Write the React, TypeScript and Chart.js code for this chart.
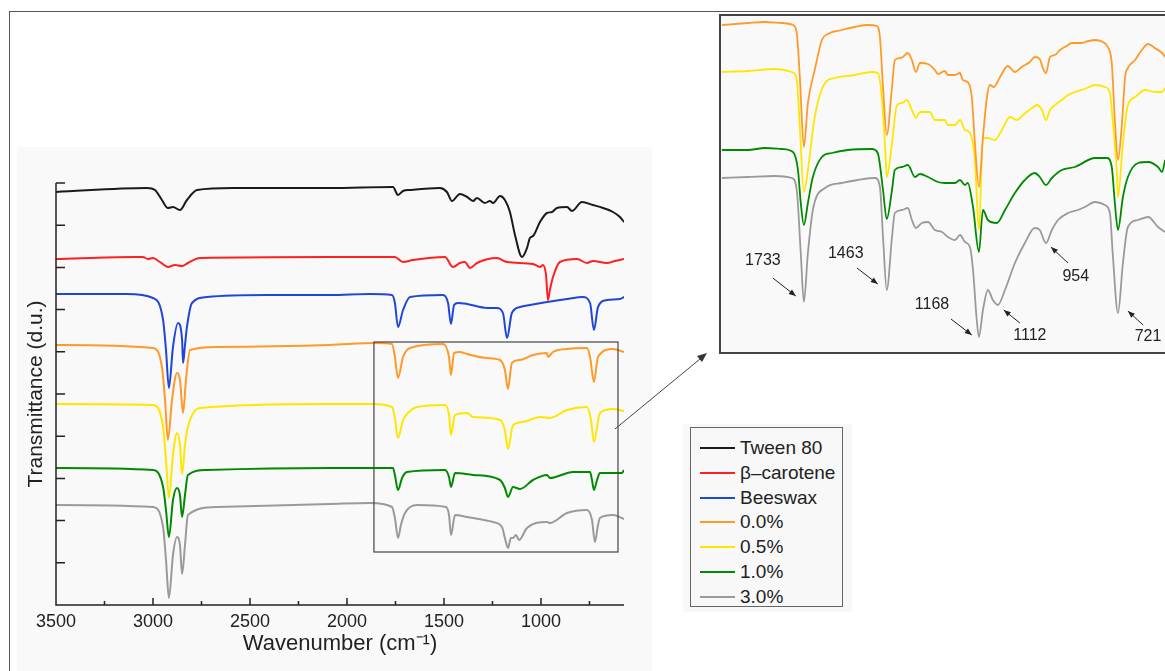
import React, { useEffect, useRef } from 'react';
import { Chart, registerables } from 'chart.js';

Chart.register(...registerables);

// ---------------- Data (wavenumber cm-1, transmittance in d.u., offset-stacked) ----------------
const SERIES_NAMES = ['Tween 80', 'β–carotene', 'Beeswax', '0.0%', '0.5%', '1.0%', '3.0%'];
const SERIES_COLORS = ['#1a1a1a', '#ff1f1f', '#1e46d8', '#ff9a28', '#ffe600', '#008a00', '#9a9a9a'];

const X_LABELS = [3500, 3000, 2500, 2000, 1500, 1000];
const X_MINOR = [3250, 2750, 2250, 1750, 1250, 750];
const X_MIN = 572;
const X_MAX = 3500;
const Y_MAX = 422;
const Y_TICK_STEP = 42.2;

const TWEEN_80: [number, number][] = [[3500,413],[3031,417],[2990,415],[2954,405],[2923,397],[2897,398],[2861,395],[2825,405],[2773,415],[2588,417],[2088,417],[1763,418],[1737,410],[1711,414],[1675,415],[1521,417],[1485,413],[1459,404],[1418,411],[1381,408],[1350,404],[1330,407],[1289,402],[1263,404],[1247,402],[1211,409],[1186,405],[1160,393],[1134,370],[1098,348],[1072,357],[1057,367],[1041,369],[1005,383],[969,392],[943,393],[918,397],[866,398],[840,394],[789,403],[732,400],[680,397],[629,393],[593,388],[572,383]];

const BETA_CAROTENE: [number, number][] = [[3500,346],[3103,348],[3052,348],[3026,346],[3000,347],[2964,343],[2923,338],[2887,340],[2850,339],[2820,342],[2758,347],[2088,348],[1753,348],[1711,343],[1660,345],[1495,348],[1454,338],[1418,342],[1392,343],[1366,337],[1330,342],[1227,347],[1175,343],[1041,341],[1005,338],[990,340],[974,330],[964,305],[954,315],[938,328],[902,343],[814,346],[763,342],[732,344],[660,342],[619,344],[572,346]];

const BEESWAX: [number, number][] = [[3500,311],[3134,311],[3000,307],[2948,285],[2933,255],[2918,217],[2897,258],[2871,282],[2850,265],[2845,242],[2835,260],[2825,278],[2799,302],[2722,308],[2412,310],[2088,310],[1881,311],[1768,310],[1753,302],[1737,278],[1711,295],[1675,308],[1505,310],[1479,302],[1464,281],[1448,300],[1428,302],[1381,301],[1278,297],[1227,297],[1196,292],[1175,267],[1150,292],[1108,298],[1057,300],[969,303],[866,306],[784,308],[747,302],[727,275],[706,298],[660,305],[593,306],[572,308]];

const P_0_0: [number, number][] = [[3500,260],[3000,257],[2954,238],[2938,205],[2923,165],[2902,205],[2876,232],[2861,225],[2845,192],[2830,225],[2809,255],[2670,258],[2088,260],[1856,262],[1768,261],[1753,248],[1737,227],[1711,248],[1675,257],[1505,261],[1474,248],[1464,230],[1448,252],[1418,253],[1381,251],[1278,247],[1211,245],[1186,235],[1170,216],[1150,242],[1108,245],[1041,250],[969,252],[964,248],[938,253],[866,256],[763,257],[747,248],[727,223],[706,248],[629,256],[572,253]];

const P_0_5: [number, number][] = [[3500,201],[3000,200],[2948,178],[2933,145],[2918,107],[2897,150],[2876,172],[2861,160],[2850,131],[2835,160],[2820,178],[2758,197],[2088,201],[1866,201],[1768,198],[1753,187],[1737,167],[1711,185],[1686,192],[1639,198],[1495,200],[1474,190],[1464,170],[1443,190],[1381,192],[1350,188],[1211,185],[1186,175],[1170,156],[1144,180],[1093,183],[1005,188],[954,187],[866,195],[763,198],[742,185],[727,163],[696,192],[629,196],[572,194]];

const P_1_0: [number, number][] = [[3500,137],[3000,135],[2948,118],[2933,95],[2918,68],[2897,105],[2876,117],[2861,110],[2850,88],[2835,110],[2820,130],[2722,135],[2088,137],[1763,137],[1753,130],[1737,115],[1716,127],[1691,133],[1495,135],[1474,128],[1464,118],[1443,132],[1350,130],[1211,125],[1186,117],[1170,108],[1144,118],[1108,116],[1041,125],[969,130],[954,127],[835,133],[747,133],[737,125],[727,115],[711,125],[696,132],[583,132],[572,135]];

const P_3_0: [number, number][] = [[3500,100],[3000,98],[2948,78],[2933,45],[2918,7],[2897,50],[2876,68],[2861,60],[2850,31],[2835,60],[2820,90],[2670,98],[2088,101],[1881,102],[1768,98],[1753,87],[1737,67],[1722,80],[1701,92],[1639,100],[1490,98],[1474,90],[1464,70],[1443,90],[1381,88],[1247,83],[1201,78],[1186,67],[1170,57],[1155,67],[1144,67],[1129,70],[1113,65],[1072,77],[969,83],[954,82],[866,92],[763,95],[737,85],[722,63],[706,80],[696,87],[629,90],[572,86]];

// Inset (zoom 2000 – 563 cm-1), its own offsets
const INSET_X_MIN = 563;
const INSET_X_MAX = 2000;
const INSET_Y_MAX = 336;

const INSET_0_0: [number, number][] = [[1997,327],[1913,329],[1859,330],[1804,329],[1768,327],[1756,319],[1746,275],[1733,205],[1720,249],[1698,282],[1675,312],[1656,318],[1611,322],[1569,325],[1527,327],[1498,326],[1488,315],[1478,265],[1466,217],[1449,265],[1440,292],[1424,294],[1414,295],[1398,299],[1385,292],[1372,280],[1359,289],[1333,288],[1311,282],[1301,278],[1279,281],[1269,277],[1246,277],[1230,279],[1221,272],[1205,270],[1192,255],[1182,209],[1169,165],[1156,215],[1143,255],[1134,267],[1121,265],[1101,275],[1076,286],[1053,280],[1031,285],[1005,290],[989,295],[973,293],[963,284],[953,279],[940,295],[924,297],[908,302],[892,305],[869,309],[837,309],[828,310],[795,312],[770,310],[754,305],[741,289],[731,232],[721,192],[708,229],[698,275],[689,284],[666,292],[644,302],[624,308],[602,304],[579,299],[569,295]];

const INSET_0_5: [number, number][] = [[1997,280],[1913,281],[1826,283],[1772,280],[1756,272],[1746,225],[1733,160],[1720,182],[1698,235],[1665,269],[1633,274],[1569,277],[1514,280],[1495,279],[1482,255],[1469,192],[1466,175],[1449,209],[1433,247],[1417,249],[1401,252],[1385,242],[1372,234],[1359,240],[1327,240],[1311,232],[1279,232],[1269,227],[1246,227],[1230,232],[1214,222],[1198,219],[1182,192],[1169,122],[1156,214],[1140,214],[1118,212],[1095,222],[1069,235],[1047,232],[1027,237],[998,244],[982,247],[966,242],[953,232],[940,242],[924,247],[902,252],[882,257],[860,260],[828,263],[795,267],[763,265],[747,259],[738,232],[725,182],[721,155],[705,209],[689,247],[666,255],[634,262],[602,260],[579,260],[569,264]];

const INSET_1_0: [number, number][] = [[1997,202],[1913,202],[1859,204],[1804,203],[1768,200],[1752,182],[1743,149],[1733,127],[1720,149],[1704,175],[1675,195],[1643,199],[1591,202],[1514,203],[1495,199],[1478,162],[1466,133],[1449,162],[1440,182],[1417,185],[1398,187],[1375,175],[1359,178],[1333,175],[1301,170],[1279,169],[1246,169],[1230,172],[1214,167],[1205,169],[1188,145],[1169,100],[1156,142],[1140,132],[1111,129],[1085,142],[1053,159],[1021,172],[989,179],[973,175],[953,167],[934,174],[902,182],[860,185],[795,194],[757,194],[741,185],[731,149],[721,122],[705,155],[689,175],[656,189],[624,190],[592,185],[579,180],[569,192]];

const INSET_3_0: [number, number][] = [[1997,174],[1913,175],[1826,176],[1772,174],[1756,162],[1743,99],[1733,50],[1720,99],[1704,142],[1665,164],[1611,169],[1559,172],[1504,174],[1488,165],[1478,115],[1466,62],[1449,115],[1440,139],[1417,142],[1398,144],[1385,132],[1372,124],[1353,129],[1333,130],[1311,122],[1288,120],[1269,115],[1246,112],[1230,117],[1214,110],[1198,105],[1188,82],[1176,32],[1169,15],[1156,42],[1140,62],[1124,52],[1108,47],[1085,62],[1053,89],[1021,109],[989,124],[973,122],[953,109],[934,122],[914,132],[882,139],[850,142],[828,145],[795,150],[763,147],[747,139],[738,99],[721,39],[705,89],[689,125],[656,132],[624,135],[592,125],[569,120]];

const PEAK_LABELS = ['1733', '1463', '1168', '1112', '954', '721'];

// ---------------- Styling / layout ----------------
const FONT = 'Arial, "Liberation Sans", Helvetica, sans-serif';
const INK = '#222222';

// annotation anchor points in inset data coordinates: text centre, arrow tail, arrow head
const NOTE_GEOM: [number, number][][] = [
  [[1865, 91], [1833, 74], [1759, 56]],
  [[1598, 98], [1562, 84], [1495, 68]],
  [[1320, 47], [1259, 33], [1192, 17]],
  [[1005, 16], [1037, 29], [1089, 42]],
  [[857, 75], [882, 89], [937, 105]],
  [[624, 15], [640, 27], [689, 41]],
];

const toPts = (arr: [number, number][]) => arr.map(([x, y]) => ({ x, y }));

function drawArrow(ctx: CanvasRenderingContext2D, x1: number, y1: number, x2: number, y2: number) {
  ctx.beginPath();
  ctx.moveTo(x1, y1);
  ctx.lineTo(x2, y2);
  ctx.stroke();
  const a = Math.atan2(y2 - y1, x2 - x1);
  const L = 7, W = 2.8;
  ctx.beginPath();
  ctx.moveTo(x2, y2);
  ctx.lineTo(x2 - L * Math.cos(a) + W * Math.sin(a), y2 - L * Math.sin(a) - W * Math.cos(a));
  ctx.lineTo(x2 - L * Math.cos(a) - W * Math.sin(a), y2 - L * Math.sin(a) + W * Math.cos(a));
  ctx.closePath();
  ctx.fill();
}

const mainAxesPlugin = {
  id: 'mainAxes',
  afterDraw(chart: any) {
    const { ctx, chartArea, scales } = chart;
    const { left, right, top, bottom } = chartArea;
    const xs = scales.x, ys = scales.y;
    ctx.save();
    ctx.strokeStyle = INK;
    ctx.lineWidth = 1.5;
    ctx.beginPath();
    ctx.moveTo(left, top);
    ctx.lineTo(left, bottom);
    ctx.lineTo(right, bottom);
    for (let i = 0; i <= 10; i++) {
      const py = ys.getPixelForValue(i * Y_TICK_STEP);
      ctx.moveTo(left, py);
      ctx.lineTo(left + 9, py);
    }
    X_LABELS.forEach((v) => {
      const px = xs.getPixelForValue(v);
      ctx.moveTo(px, bottom);
      ctx.lineTo(px, bottom - 7);
    });
    X_MINOR.forEach((v) => {
      const px = xs.getPixelForValue(v);
      ctx.moveTo(px, bottom);
      ctx.lineTo(px, bottom - 4);
    });
    ctx.stroke();
    // zoom rectangle (region shown in inset)
    ctx.strokeStyle = '#444';
    ctx.lineWidth = 1.2;
    const x1 = xs.getPixelForValue(1861), x2 = xs.getPixelForValue(603);
    const y1 = ys.getPixelForValue(263), y2 = ys.getPixelForValue(53);
    ctx.strokeRect(x1, y1, x2 - x1, y2 - y1);
    ctx.restore();
  },
};

const insetNotesPlugin = {
  id: 'insetNotes',
  afterDatasetsDraw(chart: any) {
    const { ctx, scales } = chart;
    const xs = scales.x, ys = scales.y;
    ctx.save();
    ctx.fillStyle = INK;
    ctx.strokeStyle = INK;
    ctx.lineWidth = 1;
    ctx.font = `16px ${FONT}`;
    ctx.textAlign = 'center';
    ctx.textBaseline = 'middle';
    PEAK_LABELS.forEach((label, i) => {
      const [t, a, b] = NOTE_GEOM[i];
      ctx.fillText(label, xs.getPixelForValue(t[0]), ys.getPixelForValue(t[1]));
      drawArrow(ctx, xs.getPixelForValue(a[0]), ys.getPixelForValue(a[1]), xs.getPixelForValue(b[0]), ys.getPixelForValue(b[1]));
    });
    ctx.restore();
  },
};

const MAIN_DATA = [TWEEN_80, BETA_CAROTENE, BEESWAX, P_0_0, P_0_5, P_1_0, P_3_0];
const INSET_DATA = [INSET_0_0, INSET_0_5, INSET_1_0, INSET_3_0];

export default function App() {
  const mainRef = useRef<HTMLCanvasElement>(null);
  const insetRef = useRef<HTMLCanvasElement>(null);

  useEffect(() => {
    Chart.defaults.font.family = FONT;
    Chart.defaults.color = INK;

    const main = new Chart(mainRef.current as HTMLCanvasElement, {
      type: 'line',
      data: {
        datasets: MAIN_DATA.map((d, i) => ({
          label: SERIES_NAMES[i],
          data: toPts(d),
          borderColor: SERIES_COLORS[i],
          borderWidth: 2,
          pointRadius: 0,
          cubicInterpolationMode: 'monotone' as const,
          fill: false,
        })),
      },
      options: {
        responsive: false,
        animation: false,
        events: [],
        layout: { padding: { top: 36, right: 28, left: 0, bottom: 0 } },
        plugins: { legend: { display: false }, tooltip: { enabled: false } },
        scales: {
          x: {
            type: 'linear',
            reverse: true,
            min: X_MIN,
            max: X_MAX,
            grid: { display: false, drawTicks: false },
            border: { display: false },
            afterBuildTicks: (scale: any) => {
              scale.ticks = X_LABELS.map((v) => ({ value: v }));
            },
            afterFit: (scale: any) => {
              scale.height = 66;
            },
            ticks: {
              autoSkip: false,
              maxRotation: 0,
              padding: 6,
              color: INK,
              font: { size: 18 },
              callback: (v: any) => String(v),
            },
            title: {
              display: true,
              text: 'Wavenumber (cm⁻¹)',
              color: INK,
              font: { size: 22 },
              padding: { top: 0, bottom: 14 },
            },
          },
          y: {
            type: 'linear',
            min: 0,
            max: Y_MAX,
            grid: { display: false, drawTicks: false },
            border: { display: false },
            ticks: { display: false },
            afterFit: (scale: any) => {
              scale.width = 39;
            },
            title: {
              display: true,
              text: 'Transmittance (d.u.)',
              color: INK,
              font: { size: 21 },
              padding: { top: 7, bottom: 0 },
            },
          },
        },
      },
      plugins: [mainAxesPlugin],
    } as any);

    const inset = new Chart(insetRef.current as HTMLCanvasElement, {
      type: 'line',
      data: {
        datasets: INSET_DATA.map((d, i) => ({
          label: SERIES_NAMES[i + 3],
          data: toPts(d),
          borderColor: SERIES_COLORS[i + 3],
          borderWidth: 1.8,
          pointRadius: 0,
          cubicInterpolationMode: 'monotone' as const,
          fill: false,
        })),
      },
      options: {
        responsive: false,
        animation: false,
        events: [],
        layout: { padding: 0 },
        plugins: { legend: { display: false }, tooltip: { enabled: false } },
        scales: {
          x: { type: 'linear', reverse: true, min: INSET_X_MIN, max: INSET_X_MAX, display: false },
          y: { type: 'linear', min: 0, max: INSET_Y_MAX, display: false },
        },
      },
      plugins: [insetNotesPlugin],
    } as any);

    return () => {
      main.destroy();
      inset.destroy();
    };
  }, []);

  const legendTop = 427;
  const rowStep = 24.8;

  return (
    <div
      style={{
        position: 'fixed',
        left: 0,
        top: 0,
        width: 1165,
        height: 671,
        overflow: 'hidden',
        background: '#ffffff',
        fontFamily: FONT,
      }}
    >
      {/* outer frame */}
      <div style={{ position: 'absolute', left: 9, top: 11, width: 1300, height: 800, border: '1.5px solid #555', boxSizing: 'border-box' }} />
      {/* main panel background */}
      <div style={{ position: 'absolute', left: 17, top: 147, width: 635, height: 524, background: '#f9f9f9' }} />
      <canvas ref={mainRef} width={635} height={524} style={{ position: 'absolute', left: 17, top: 147, width: 635, height: 524 }} />

      {/* inset */}
      <div style={{ position: 'absolute', left: 719, top: 14, width: 500, height: 340, border: '2px solid #444', background: '#f9f9f9', boxSizing: 'border-box' }} />
      <canvas ref={insetRef} width={446} height={336} style={{ position: 'absolute', left: 721, top: 16, width: 446, height: 336 }} />

      {/* connecting arrow */}
      <svg width={1165} height={671} style={{ position: 'absolute', left: 0, top: 0, pointerEvents: 'none' }}>
        <line x1={615} y1={429} x2={700} y2={359} stroke="#444" strokeWidth={1} />
        <polygon points="707,353 697,356 702,362" fill="#333" />
      </svg>

      {/* legend */}
      <div style={{ position: 'absolute', left: 683, top: 424, width: 169, height: 188, background: '#f8f8f8' }} />
      <div style={{ position: 'absolute', left: 690, top: legendTop, width: 153, height: 180, border: '1.5px solid #666', boxSizing: 'border-box' }} />
      {SERIES_NAMES.map((name, i) => {
        const cy = 448 + i * rowStep;
        return (
          <div key={name} style={{ position: 'absolute', left: 700, top: cy - 12, height: 24, display: 'flex', alignItems: 'center' }}>
            <span style={{ display: 'inline-block', width: 35, height: 2, background: SERIES_COLORS[i] }} />
            <span style={{ marginLeft: 5, fontSize: 19, color: INK, lineHeight: '24px', whiteSpace: 'nowrap' }}>{name}</span>
          </div>
        );
      })}
    </div>
  );
}
